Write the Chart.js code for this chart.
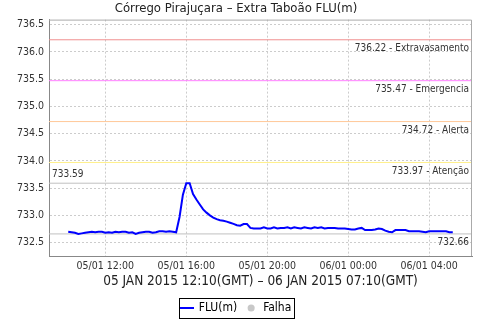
<!DOCTYPE html>
<html>
<head>
<meta charset="utf-8">
<script src="https://cdn.jsdelivr.net/npm/chart.js@4/dist/chart.umd.min.js"></script>
<style>
  body { margin: 0; background: #fff; }
  canvas { display: block; }
</style>
</head>
<body>
<canvas id="myChart" width="480" height="320"></canvas>
<script>
// sampling: 05/01 10:10 (local) every 10 minutes until 06/01 05:10
const startHour = 10 + 10 / 60;
const stepMinutes = 10;

// FLU(m) readings
const flowValues = [
  732.70, 732.69, 732.68, 732.66, 732.67, 732.68, 732.69, 732.70, 732.69, 732.70,
  732.70, 732.68, 732.69, 732.68, 732.70, 732.69, 732.70, 732.70, 732.68, 732.69,
  732.66, 732.68, 732.69, 732.70, 732.70, 732.68, 732.69, 732.71, 732.71, 732.70,
  732.71, 732.70, 732.69, 732.97, 733.38, 733.59, 733.59, 733.39, 733.29, 733.20,
  733.11, 733.05, 733.00, 732.96, 732.93, 732.91, 732.90, 732.885, 732.865, 732.845,
  732.82, 732.81, 732.84, 732.84, 732.77, 732.76, 732.76, 732.76, 732.78, 732.76,
  732.76, 732.78, 732.76, 732.77, 732.77, 732.78, 732.76, 732.78, 732.77, 732.76,
  732.78, 732.77, 732.76, 732.78, 732.77, 732.78, 732.76, 732.77, 732.77, 732.77,
  732.76, 732.76, 732.76, 732.75, 732.74, 732.74, 732.76, 732.77, 732.73, 732.73,
  732.73, 732.74, 732.76, 732.75, 732.72, 732.70, 732.69, 732.73, 732.73, 732.73,
  732.73, 732.71, 732.71, 732.71, 732.71, 732.70, 732.69, 732.71, 732.71, 732.71,
  732.71, 732.71, 732.71, 732.69, 732.69
];

// alert levels
const levelValues = [736.22, 735.47, 734.72, 733.97];
const levelNames = ['Extravasamento', 'Emergencia', 'Alerta', 'Atenção'];
const levelColors = ['#f09090', '#ff80ff', '#ffc898', '#fff08a'];

// axis ticks
const xTickHours = [12, 16, 20, 24, 28];
const yTickValues = [732.5, 733.0, 733.5, 734.0, 734.5, 735.0, 735.5, 736.0, 736.5];
const xMin = 9.217, xMax = 30.117;
const yMin = 732.255, yMax = 736.59;

const maxValue = Math.max(...flowValues);
const minValue = Math.min(...flowValues);

const FONT = "'DejaVu Sans Condensed', 'DejaVu Sans', sans-serif";
Chart.defaults.font.family = FONT;
Chart.defaults.color = '#333';

const flowPoints = flowValues.map(function(v, i) {
    return { x: startHour + i * stepMinutes / 60, y: v };
});

function flatLine(v) {
    return [{ x: xMin, y: v }, { x: xMax, y: v }];
}

// small blue line used as legend symbol
const lineIcon = document.createElement('canvas');
lineIcon.width = 14;
lineIcon.height = 2;
var ictx = lineIcon.getContext('2d');
ictx.fillStyle = '#0000ff';
ictx.fillRect(0, 0, 14, 2);

const datasets = [
    {
        label: 'FLU(m)',
        data: flowPoints,
        borderColor: '#0000ff',
        backgroundColor: '#0000ff',
        borderWidth: 2,
        pointRadius: 0,
        pointStyle: lineIcon,
        tension: 0
    },
    {
        label: 'Falha',
        data: [],
        borderColor: '#c8c8c8',
        backgroundColor: '#c8c8c8',
        pointStyle: 'circle',
        pointBorderWidth: 0
    }
];
levelValues.forEach(function(v, i) {
    datasets.push({
        label: levelNames[i],
        data: flatLine(v),
        borderColor: levelColors[i],
        borderWidth: 1,
        pointRadius: 0
    });
});
datasets.push({ label: 'max', data: flatLine(maxValue), borderColor: '#c0c0c0', borderWidth: 1, pointRadius: 0 });
datasets.push({ label: 'min', data: flatLine(minValue), borderColor: '#c0c0c0', borderWidth: 1, pointRadius: 0 });

// frame, level captions and legend box
const decorations = {
    id: 'decorations',
    afterDatasetsDraw: function(chart) {
        var ctx = chart.ctx, area = chart.chartArea, y = chart.scales.y;
        ctx.save();
        ctx.strokeStyle = '#aaaaaa';
        ctx.lineWidth = 1;
        ctx.beginPath();
        ctx.moveTo(area.left, area.top + 0.5);
        ctx.lineTo(area.right - 0.5, area.top + 0.5);
        ctx.lineTo(area.right - 0.5, area.bottom);
        ctx.stroke();

        ctx.font = "10px " + FONT;
        ctx.fillStyle = '#333';
        ctx.textBaseline = 'middle';
        ctx.textAlign = 'right';
        levelValues.forEach(function(v, i) {
            ctx.fillText(v.toFixed(2) + ' - ' + levelNames[i], area.right - 3, y.getPixelForValue(v) + 8.5);
        });
        ctx.fillText(minValue.toFixed(2), area.right - 3, y.getPixelForValue(minValue) + 8);
        ctx.textAlign = 'left';
        ctx.fillText(maxValue.toFixed(2), area.left + 3, y.getPixelForValue(maxValue) - 9);
        ctx.restore();
    },
    afterDraw: function(chart) {
        var boxes = chart.legend.legendHitBoxes;
        if (!boxes || !boxes.length) return;
        var first = boxes[0], last = boxes[boxes.length - 1];
        var ctx = chart.ctx;
        ctx.save();
        ctx.strokeStyle = '#000';
        ctx.lineWidth = 1;
        var left = Math.round(first.left - 2) + 0.5;
        var right = Math.round(last.left + last.width + 3) + 0.5;
        var top = Math.round(first.top - 4) + 0.5;
        ctx.strokeRect(left, top, right - left, first.height + 8);
        ctx.restore();
    }
};

function pad2(n) { return (n < 10 ? '0' : '') + n; }

new Chart(document.getElementById('myChart'), {
    type: 'line',
    data: { datasets: datasets },
    plugins: [decorations],
    options: {
        responsive: false,
        animation: false,
        devicePixelRatio: 1,
        layout: { padding: { left: 0, right: 8, top: 0, bottom: -4 } },
        plugins: {
            title: {
                display: true,
                text: 'Córrego Pirajuçara – Extra Taboão FLU(m)',
                color: '#222',
                font: { size: 13, weight: 'normal' },
                padding: { top: 1, bottom: 3 }
            },
            legend: {
                position: 'bottom',
                labels: {
                    usePointStyle: true,
                    boxWidth: 12,
                    boxHeight: 5,
                    padding: 8,
                    color: '#000',
                    font: { size: 12 },
                    filter: function(item) { return item.datasetIndex < 2; }
                }
            },
            tooltip: { enabled: false }
        },
        scales: {
            x: {
                type: 'linear',
                min: xMin,
                max: xMax,
                afterBuildTicks: function(axis) {
                    axis.ticks = xTickHours.map(function(h) { return { value: h }; });
                },
                afterFit: function(axis) { axis.height = 38; },
                ticks: {
                    maxRotation: 0,
                    autoSkip: false,
                    padding: 4,
                    color: '#333',
                    font: { size: 10.5 },
                    callback: function(value) {
                        var day = value < 24 ? '05/01' : '06/01';
                        return day + ' ' + pad2(value % 24) + ':00';
                    }
                },
                grid: { color: '#cccccc', drawTicks: false },
                border: { display: true, color: '#888', width: 1, dash: [2, 2] },
                title: {
                    display: true,
                    text: '05 JAN 2015 12:10(GMT) – 06 JAN 2015 07:10(GMT)',
                    color: '#222',
                    font: { size: 13.5 },
                    padding: { top: 0, bottom: 4 }
                }
            },
            y: {
                type: 'linear',
                min: yMin,
                max: yMax,
                afterBuildTicks: function(axis) {
                    axis.ticks = yTickValues.map(function(v) { return { value: v }; });
                },
                afterFit: function(axis) { axis.width = 49; },
                ticks: {
                    padding: 5,
                    color: '#333',
                    font: { size: 10.5 },
                    callback: function(value) { return value.toFixed(1); }
                },
                grid: { color: '#cccccc', drawTicks: false },
                border: { display: true, color: '#888', width: 1, dash: [2, 2] }
            }
        }
    }
});
</script>
</body>
</html>
